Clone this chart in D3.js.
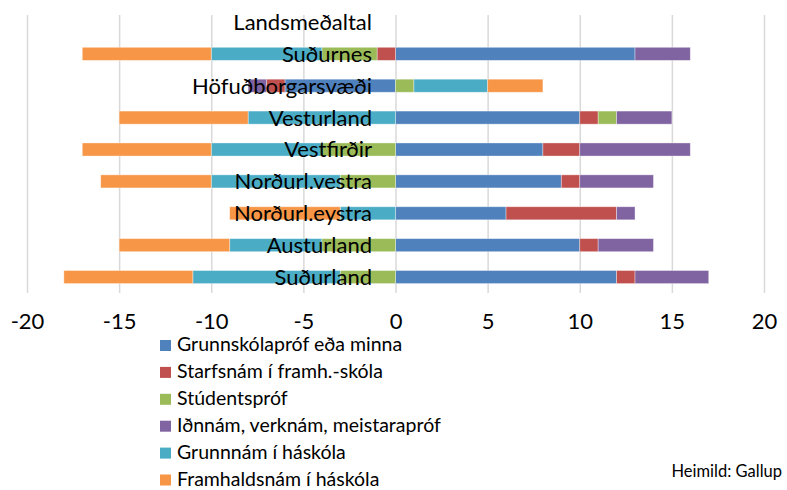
<!DOCTYPE html>
<html>
<head>
<meta charset="utf-8">
<script src="https://cdn.jsdelivr.net/npm/d3@7"></script>
<style>
  body { margin: 0; background: #fff; }
  text { font-family: Lato, "Open Sans", sans-serif; fill: #000; }
</style>
</head>
<body>
<script>
const w = 787;
const h = 490;

// regions, top to bottom
const regions = ["Landsmeðaltal", "Suðurnes", "Höfuðborgarsvæði", "Vesturland", "Vestfirðir",
                 "Norðurl.vestra", "Norðurl.eystra", "Austurland", "Suðurland"];

const seriesNames = ["Grunnskólapróf eða minna", "Starfsnám í framh.-skóla", "Stúdentspróf",
                     "Iðnnám, verknám, meistarapróf", "Grunnnám í háskóla", "Framhaldsnám í háskóla"];
const colors = ["#4F81BD", "#C0504D", "#9BBB59", "#8064A2", "#4BACC6", "#F79646"];

const grunnskoli   = [0, 13, -6, 10,  8,  9,  6, 10, 12];
const starfsnam    = [0, -1, -1,  1,  2,  1,  6,  1,  1];
const studentsprof = [0, -3,  1,  1, -4, -3,  0, -4, -3];
const idnnam       = [0,  3, -1,  3,  6,  4,  1,  3,  4];
const grunnnamHi   = [0, -6,  4, -8, -6, -7, -3, -5, -8];
const framhaldHi   = [0, -7,  3, -7, -7, -6, -6, -6, -7];

const xTicks = [-20, -15, -10, -5, 0, 5, 10, 15, 20];

const seriesValues = [grunnskoli, starfsnam, studentsprof, idnnam, grunnnamHi, framhaldHi];

const rows = regions.map((r, i) => {
  const row = { region: r };
  seriesNames.forEach((s, j) => row[s] = seriesValues[j][i]);
  return row;
});

const stacked = d3.stack()
  .keys(seriesNames)
  .offset(d3.stackOffsetDiverging)(rows);

const svg = d3.select("body")
  .append("svg")
  .attr("width", w)
  .attr("height", h);

const xScale = d3.scaleLinear()
  .domain([-20, 20])
  .range([27, 764]);

const yScale = d3.scaleBand()
  .domain(regions)
  .range([6, 293])
  .paddingInner(0.59)
  .paddingOuter(0.295);

// gridlines
svg.append("g")
   .attr("transform", "translate(0,293)")
   .call(d3.axisBottom(xScale).tickValues(xTicks).tickSize(-278).tickFormat(""))
   .call(g => g.select(".domain").remove())
   .call(g => g.selectAll("line").attr("stroke", "#d9d9d9").attr("stroke-width", 1.5));

// bars
svg.append("g")
   .selectAll("g")
   .data(stacked)
   .enter()
   .append("g")
   .attr("fill", (d, i) => colors[i])
   .selectAll("rect")
   .data(d => d)
   .enter()
   .append("rect")
   .attr("x", d => xScale(Math.min(d[0], d[1])))
   .attr("width", d => Math.abs(xScale(d[1]) - xScale(d[0])))
   .attr("y", d => yScale(d.data.region))
   .attr("height", yScale.bandwidth())
   .attr("stroke", "#fff")
   .attr("stroke-opacity", 0.45)
   .attr("stroke-width", 0.8);

// region labels sit on top of the bars
svg.append("g")
   .selectAll("text")
   .data(regions)
   .enter()
   .append("text")
   .attr("x", 372)
   .attr("y", d => yScale(d) + yScale.bandwidth() / 2)
   .attr("dy", "0.36em")
   .attr("text-anchor", "end")
   .attr("font-size", 22)
   .text(d => d);

// x axis labels (plain hyphen minus, like the original)
svg.append("g")
   .attr("transform", "translate(0,293)")
   .call(d3.axisBottom(xScale).tickValues(xTicks).tickSize(0).tickPadding(20).tickFormat(d => String(d)))
   .call(g => g.select(".domain").remove())
   .call(g => g.selectAll("text").attr("font-size", 22).attr("font-family", "Lato, 'Open Sans', sans-serif").attr("fill", "#000"));

// legend
const legend = svg.append("g")
  .selectAll("g")
  .data(seriesNames)
  .enter()
  .append("g")
  .attr("transform", (d, i) => "translate(160," + (345.5 + i * 26.9) + ")");

legend.append("rect")
  .attr("x", 0)
  .attr("y", -5.5)
  .attr("width", 11)
  .attr("height", 11)
  .attr("fill", (d, i) => colors[i]);

legend.append("text")
  .attr("x", 17)
  .attr("dy", "0.3em")
  .attr("font-size", 19.5)
  .text(d => d);

svg.append("text")
   .attr("x", 782)
   .attr("y", 477)
   .attr("text-anchor", "end")
   .attr("font-size", 16.5)
   .text("Heimild: Gallup");
</script>
</body>
</html>
